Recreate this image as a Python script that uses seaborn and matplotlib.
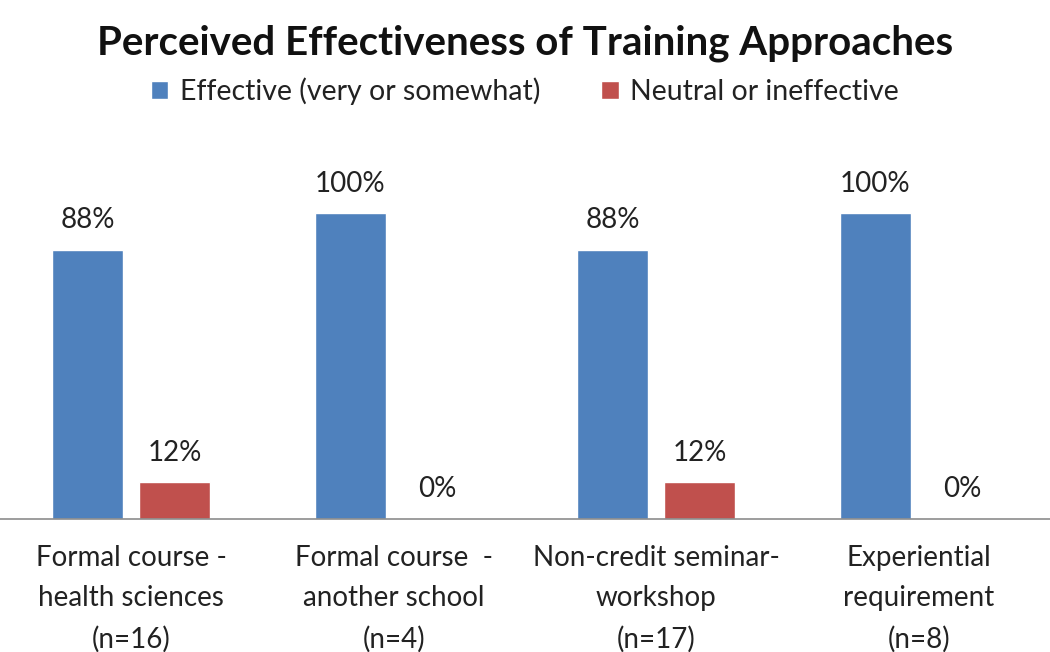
import matplotlib
matplotlib.use("Agg")
import matplotlib.pyplot as plt
import seaborn as sns
import pandas as pd
from matplotlib.patches import Patch

categories = ["Formal course -\nhealth sciences\n(n=16)",
              "Formal course  -\nanother school\n(n=4)",
              "Non-credit seminar-\nworkshop\n(n=17)",
              "Experiential\nrequirement\n(n=8)"]
series_names = ["Effective (very or somewhat)", "Neutral or ineffective"]
effective = [88, 100, 88, 100]
neutral = [12, 0, 12, 0]
colors = ["#4F81BD", "#C0504D"]

rows = []
for c, e, n in zip(categories, effective, neutral):
    rows.append({"cat": c, "series": series_names[0], "val": e})
    rows.append({"cat": c, "series": series_names[1], "val": n})
df = pd.DataFrame(rows)

sns.set_theme(style="white")
plt.rcParams["font.family"] = ["Lato", "DejaVu Sans"]

fig = plt.figure(figsize=(10.5, 6.52), dpi=100)
ax = fig.add_axes([0.0, 0.204, 1.0, 0.581])
sns.barplot(data=df, x="cat", y="val", hue="series", order=categories,
            hue_order=series_names, palette=colors, width=0.66, gap=0.18,
            ax=ax, legend=False, saturation=1)
for cont in ax.containers:
    ax.bar_label(cont, labels=[f"{v:.0f}%" for v in cont.datavalues],
                 padding=12, fontsize=20, color="#222222")
ax.set_xlim(-0.5, 3.5)
ax.set_ylim(0, 123.9)
ax.set_xlabel("")
ax.set_ylabel("")
ax.set_yticks([])
for s in ["top", "right", "left"]:
    ax.spines[s].set_visible(False)
ax.spines["bottom"].set_color("#8C8C8C")
ax.spines["bottom"].set_linewidth(1.2)
ax.tick_params(axis="x", length=0, pad=19, labelsize=20, colors="#222222")
for t in ax.get_xticklabels():
    t.set_linespacing(1.67)

fig.suptitle("Perceived Effectiveness of Training Approaches", y=0.962,
             fontsize=29, fontweight="bold", color="#111111")
handles = [Patch(facecolor=c, label=l) for c, l in zip(colors, series_names)]
fig.legend(handles=handles, loc="center", bbox_to_anchor=(0.5, 0.86), ncol=2,
           frameon=False, fontsize=20.5, handlelength=0.6, handleheight=0.6,
           handletextpad=0.4, columnspacing=2.15, labelcolor="#222222")
fig.savefig("out.png", dpi=100)
